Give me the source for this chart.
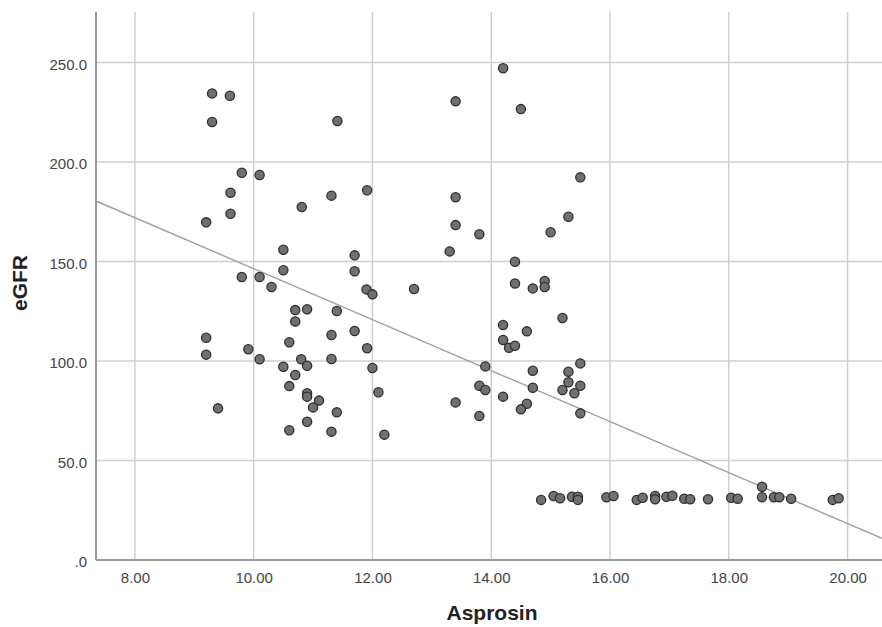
<!DOCTYPE html>
<html>
<head>
<meta charset="utf-8">
<script src="https://cdn.jsdelivr.net/npm/d3@7"></script>
<style>
  body { margin: 0; background: #fff; }
  text { font-family: Arial, 'Liberation Sans', sans-serif; }
</style>
</head>
<body>
<div id="chart"></div>
<script>
// values
const asprosin = [
  9.30, 9.60, 9.30, 9.80, 10.10, 9.61, 9.61, 9.20, 10.81, 11.31, 11.91, 11.41,
  10.50, 10.50, 9.80, 10.10, 10.30, 11.70, 11.70, 11.90, 12.00, 10.70, 10.90, 10.70,
  11.40, 11.31, 11.70, 9.20, 9.20, 9.91, 10.10, 10.60, 10.80, 10.90, 10.50, 10.70,
  11.31, 11.91, 12.00, 10.60, 10.90, 10.90, 11.10, 11.00, 11.40, 10.90, 10.60, 11.31,
  9.40, 12.10, 12.20, 12.70,
  14.20, 13.40, 14.50, 15.50, 13.40, 15.30, 13.40, 13.80, 15.00, 13.30, 14.40, 14.40,
  14.70, 14.90, 14.90, 15.20, 14.20, 14.60, 14.20, 14.30, 14.40, 13.90, 14.70, 15.50,
  15.30, 15.30, 15.50, 15.20, 15.40, 13.80, 13.90, 14.70, 14.20, 13.40, 14.60, 14.50,
  13.80, 15.50,
  14.84, 15.05, 15.16, 15.36, 15.46, 15.46, 15.94, 16.06, 16.45, 16.55, 16.76, 16.76,
  16.95, 17.05, 17.25, 17.35, 17.65, 18.04, 18.15, 18.56, 18.56, 18.76, 18.85, 19.05,
  19.75, 19.85
]
const egfr = [
  234.5, 233.3, 220.1, 194.6, 193.5, 184.6, 174.0, 169.7, 177.4, 183.1, 185.8, 220.6,
  155.9, 145.6, 142.2, 142.2, 137.2, 153.1, 145.1, 136.0, 133.5, 125.6, 126.0, 119.9,
  125.1, 113.1, 115.1, 111.7, 103.2, 105.9, 100.9, 109.4, 100.9, 97.6, 97.1, 93.0,
  101.0, 106.4, 96.5, 87.4, 83.8, 82.1, 80.1, 76.7, 74.2, 69.5, 65.2, 64.5,
  76.2, 84.3, 63.0, 136.2,
  247.1, 230.5, 226.6, 192.3, 182.3, 172.5, 168.3, 163.7, 164.7, 155.1, 149.9, 139.0,
  136.5, 140.2, 137.2, 121.6, 118.1, 114.9, 110.6, 106.7, 107.7, 97.3, 95.1, 98.8,
  94.6, 89.3, 87.6, 85.4, 83.8, 87.6, 85.4, 86.6, 82.1, 79.2, 78.5, 75.7,
  72.4, 73.7,
  30.2, 32.2, 31.0, 31.8, 31.8, 30.2, 31.5, 32.2, 30.2, 31.3, 32.2, 30.5,
  31.8, 32.3, 30.8, 30.5, 30.5, 31.3, 30.8, 36.8, 31.5, 31.5, 31.5, 30.8,
  30.2, 31.0
]

const xTicks = [8, 10, 12, 14, 16, 18, 20]
const yTicks = [0, 50, 100, 150, 200, 250]

// linear fit line (eGFR = intercept + slope * Asprosin)
const fitIntercept = 274.5
const fitSlope = -12.81

const width = 882
const height = 627
const margin = { top: 12, left: 96, right: 0, bottom: 67 }

const svg = d3
  .select('#chart')
  .append('svg')
  .attr('width', width)
  .attr('height', height)

const xScale = d3
  .scaleLinear()
  .domain([7.345, 20.58])
  .range([margin.left, width - margin.right])

const yScale = d3
  .scaleLinear()
  .domain([0, 275.4])
  .range([height - margin.bottom, margin.top])

const plotBottom = height - margin.bottom

// grid
svg
  .selectAll('.xgrid')
  .data(xTicks)
  .enter()
  .append('line')
  .attr('class', 'xgrid')
  .attr('x1', d => xScale(d))
  .attr('x2', d => xScale(d))
  .attr('y1', margin.top)
  .attr('y2', plotBottom)
  .attr('stroke', '#cfcfcf')
  .attr('stroke-width', 1.5)

svg
  .selectAll('.ygrid')
  .data(yTicks.filter(d => d > 0))
  .enter()
  .append('line')
  .attr('class', 'ygrid')
  .attr('x1', margin.left)
  .attr('x2', width)
  .attr('y1', d => yScale(d))
  .attr('y2', d => yScale(d))
  .attr('stroke', '#cfcfcf')
  .attr('stroke-width', 1.5)

// axes
const xAxis = d3
  .axisBottom(xScale)
  .tickValues(xTicks)
  .tickFormat(d3.format('.2f'))
  .tickSize(0)
  .tickPadding(12)

const yAxis = d3
  .axisLeft(yScale)
  .tickValues(yTicks)
  .tickFormat(d => (d === 0 ? '.0' : d3.format('.1f')(d)))
  .tickSize(0)
  .tickPadding(9)

const gx = svg
  .append('g')
  .attr('transform', 'translate(0,' + plotBottom + ')')
  .call(xAxis)

const gy = svg
  .append('g')
  .attr('transform', 'translate(' + margin.left + ',0)')
  .call(yAxis)

gx.select('.domain').remove()
gy.select('.domain').remove()

svg
  .selectAll('.tick text')
  .attr('font-family', "Arial, 'Liberation Sans', sans-serif")
  .attr('font-size', 15)
  .attr('fill', '#444')

gy.selectAll('.tick text').attr('dy', '0.45em')

svg
  .append('line')
  .attr('x1', margin.left)
  .attr('x2', margin.left)
  .attr('y1', margin.top)
  .attr('y2', plotBottom)
  .attr('stroke', '#999')
  .attr('stroke-width', 2)

svg
  .append('line')
  .attr('x1', margin.left)
  .attr('x2', width)
  .attr('y1', plotBottom)
  .attr('y2', plotBottom)
  .attr('stroke', '#999')
  .attr('stroke-width', 2)

// fit line
const fitLine = d3
  .line()
  .x(d => xScale(d))
  .y(d => yScale(fitIntercept + fitSlope * d))

svg
  .append('path')
  .datum(xScale.domain())
  .attr('d', fitLine)
  .attr('fill', 'none')
  .attr('stroke', '#a0a0a0')
  .attr('stroke-width', 1.4)

// points
const points = asprosin.map((d, i) => ({ x: d, y: egfr[i] }))

svg
  .selectAll('.dot')
  .data(points)
  .enter()
  .append('circle')
  .attr('class', 'dot')
  .attr('cx', d => xScale(d.x))
  .attr('cy', d => yScale(d.y))
  .attr('r', 4.6)
  .attr('fill', '#707070')
  .attr('stroke', '#2e2e2e')
  .attr('stroke-width', 1.3)

// axis titles
svg
  .append('text')
  .attr('x', 492)
  .attr('y', 620)
  .attr('text-anchor', 'middle')
  .attr('font-size', 21)
  .attr('font-weight', 700)
  .attr('fill', '#222')
  .text('Asprosin')

svg
  .append('text')
  .attr('transform', 'translate(27,' + 283 + ') rotate(-90)')
  .attr('text-anchor', 'middle')
  .attr('font-size', 21)
  .attr('font-weight', 700)
  .attr('fill', '#222')
  .text('eGFR')
</script>
</body>
</html>
